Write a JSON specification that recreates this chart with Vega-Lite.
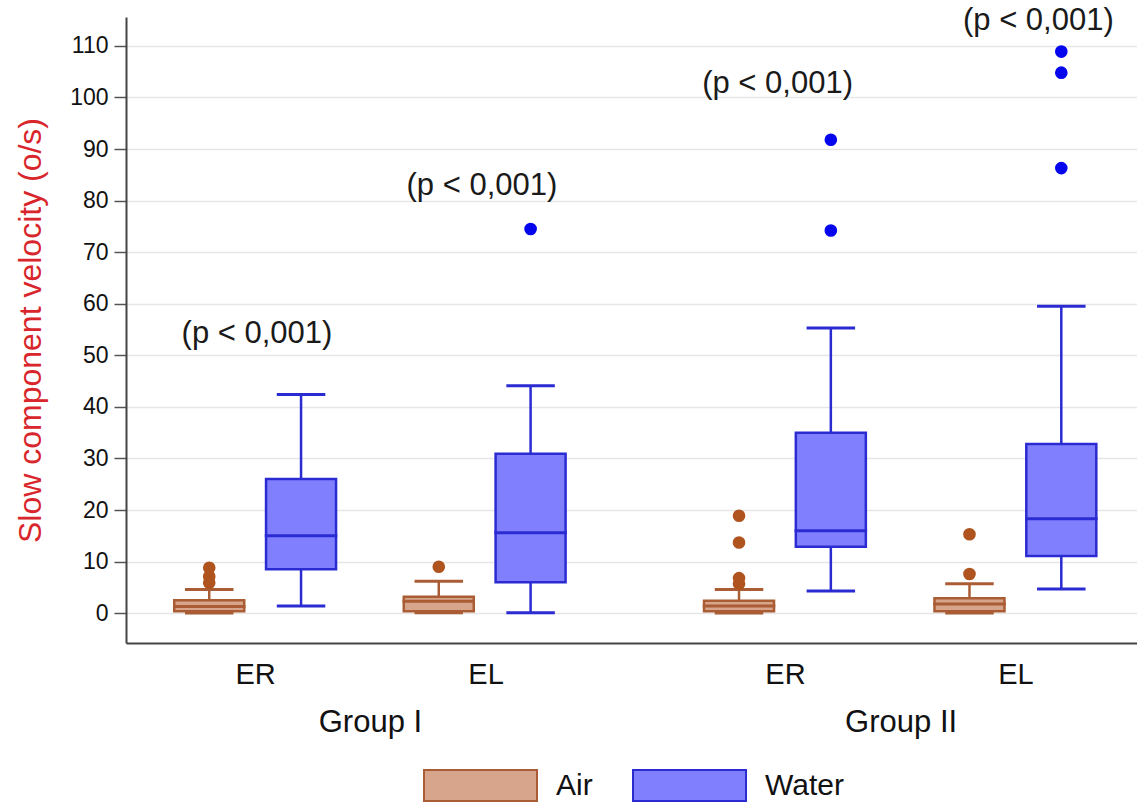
{
  "$schema": "https://vega.github.io/schema/vega-lite/v6.json",
  "width": 1011,
  "height": 626,
  "autosize": {"type": "none"},
  "padding": {"left": 126, "top": 17, "right": 0, "bottom": 160},
  "background": "white",
  "config": {
    "font": "Liberation Sans",
    "view": {"stroke": null},
    "text": {"font": "Liberation Sans"},
    "axisY": {
      "tickSize": 12, "tickColor": "#555555", "tickWidth": 1.5,
      "labelFontSize": 23, "labelPadding": 6, "labelColor": "#111111",
      "domainColor": "#444444", "domainWidth": 2,
      "gridColor": "#e6e6e6", "gridWidth": 1.5,
      "titleColor": "#d8262c", "titleFontSize": 32, "titleFontWeight": "normal",
      "titlePadding": 22
    },
    "legend": {
      "orient": "none", "legendX": 297, "legendY": 711, "direction": "horizontal",
      "symbolType": "M-1,-0.274L1,-0.274L1,0.274L-1,0.274Z",
      "symbolSize": 12769, "symbolStrokeWidth": 2, "symbolOpacity": 1,
      "labelFontSize": 30, "labelOffset": 18, "columnPadding": 36, "labelColor": "#111111"
    }
  },
  "datasets": {
    "boxes": [
      {"grp": "Group I", "side": "ER", "cond": "Air", "pos": 1, "lo": 0.05, "q1": 0.4, "med": 1.3, "q3": 2.5, "hi": 4.6},
      {"grp": "Group I", "side": "ER", "cond": "Water", "pos": 2, "lo": 1.4, "q1": 8.5, "med": 15.0, "q3": 26.0, "hi": 42.4},
      {"grp": "Group I", "side": "EL", "cond": "Air", "pos": 3.5, "lo": 0.1, "q1": 0.4, "med": 2.3, "q3": 3.2, "hi": 6.2},
      {"grp": "Group I", "side": "EL", "cond": "Water", "pos": 4.5, "lo": 0.1, "q1": 6.0, "med": 15.6, "q3": 30.9, "hi": 44.1},
      {"grp": "Group II", "side": "ER", "cond": "Air", "pos": 6.77, "lo": 0.05, "q1": 0.4, "med": 1.4, "q3": 2.4, "hi": 4.6},
      {"grp": "Group II", "side": "ER", "cond": "Water", "pos": 7.77, "lo": 4.3, "q1": 12.9, "med": 16.0, "q3": 35.0, "hi": 55.3},
      {"grp": "Group II", "side": "EL", "cond": "Air", "pos": 9.28, "lo": 0.05, "q1": 0.4, "med": 1.8, "q3": 2.9, "hi": 5.7},
      {"grp": "Group II", "side": "EL", "cond": "Water", "pos": 10.28, "lo": 4.7, "q1": 11.1, "med": 18.3, "q3": 32.8, "hi": 59.5}
    ],
    "outliers": [
      {"cond": "Air", "pos": 1, "value": 5.9},
      {"cond": "Air", "pos": 1, "value": 7.1},
      {"cond": "Air", "pos": 1, "value": 8.8},
      {"cond": "Air", "pos": 3.5, "value": 9.0},
      {"cond": "Water", "pos": 4.5, "value": 74.5},
      {"cond": "Air", "pos": 6.77, "value": 5.7},
      {"cond": "Air", "pos": 6.77, "value": 6.8},
      {"cond": "Air", "pos": 6.77, "value": 13.7},
      {"cond": "Air", "pos": 6.77, "value": 18.9},
      {"cond": "Water", "pos": 7.77, "value": 74.2},
      {"cond": "Water", "pos": 7.77, "value": 91.8},
      {"cond": "Air", "pos": 9.28, "value": 7.6},
      {"cond": "Air", "pos": 9.28, "value": 15.3},
      {"cond": "Water", "pos": 10.28, "value": 86.3},
      {"cond": "Water", "pos": 10.28, "value": 104.8},
      {"cond": "Water", "pos": 10.28, "value": 108.9}
    ],
    "pvals": [
      {"pos": 1.52, "y": 54.2, "label": "(p < 0,001)"},
      {"pos": 3.97, "y": 82.8, "label": "(p < 0,001)"},
      {"pos": 7.19, "y": 102.7, "label": "(p < 0,001)"},
      {"pos": 10.03, "y": 114.9, "label": "(p < 0,001)"}
    ]
  },
  "resolve": {"axis": {"x": "independent"}},
  "layer": [
    {
      "data": {"name": "boxes"},
      "mark": {"type": "rule", "strokeWidth": 2.5},
      "encoding": {
        "x": {"field": "pos", "type": "quantitative", "scale": {"domain": [0.148, 11.05], "nice": false, "zero": false}, "axis": null},
        "y": {"field": "lo", "type": "quantitative", "scale": {"domain": [-5.78, 115.6], "nice": false, "zero": false},
              "axis": {"values": [0, 10, 20, 30, 40, 50, 60, 70, 80, 90, 100, 110], "title": "Slow component velocity (o/s)", "labelFontSize": 23, "titleFontSize": 32}},
        "y2": {"field": "hi"},
        "stroke": {"field": "cond", "type": "nominal", "scale": {"domain": ["Air", "Water"], "range": ["#aa5c34", "#2b2bd2"]}, "legend": {"title": null}}
      }
    },
    {
      "data": {"name": "boxes"},
      "mark": {"type": "tick", "orient": "horizontal", "size": 46, "thickness": 0.5, "filled": false, "strokeWidth": 2.5, "opacity": 1},
      "encoding": {
        "x": {"field": "pos", "type": "quantitative", "axis": null},
        "y": {"field": "lo", "type": "quantitative", "axis": {"values": [0, 10, 20, 30, 40, 50, 60, 70, 80, 90, 100, 110], "title": "Slow component velocity (o/s)", "labelFontSize": 23, "titleFontSize": 32}},
        "stroke": {"field": "cond", "type": "nominal", "legend": {"title": null}}
      }
    },
    {
      "data": {"name": "boxes"},
      "mark": {"type": "tick", "orient": "horizontal", "size": 46, "thickness": 0.5, "filled": false, "strokeWidth": 2.5, "opacity": 1},
      "encoding": {
        "x": {"field": "pos", "type": "quantitative", "axis": null},
        "y": {"field": "hi", "type": "quantitative", "axis": {"values": [0, 10, 20, 30, 40, 50, 60, 70, 80, 90, 100, 110], "title": "Slow component velocity (o/s)", "labelFontSize": 23, "titleFontSize": 32}},
        "stroke": {"field": "cond", "type": "nominal", "legend": {"title": null}}
      }
    },
    {
      "data": {"name": "boxes"},
      "mark": {"type": "bar", "size": 70, "strokeWidth": 2.5, "opacity": 1},
      "encoding": {
        "x": {
          "field": "pos", "type": "quantitative",
          "axis": {
            "orient": "bottom",
            "values": [1.5, 4.01, 7.27, 9.78],
            "labelExpr": "datum.value < 2 ? 'ER' : datum.value < 5 ? 'EL' : datum.value < 8 ? 'ER' : 'EL'",
            "ticks": false, "tickSize": 0, "grid": false,
            "domainColor": "#444444", "domainWidth": 2,
            "labelFontSize": 29, "labelPadding": 17, "labelColor": "#111111",
            "labelFlush": false, "labelOverlap": false, "title": null
          }
        },
        "y": {
          "field": "q1", "type": "quantitative",
          "axis": {"values": [0, 10, 20, 30, 40, 50, 60, 70, 80, 90, 100, 110], "title": "Slow component velocity (o/s)", "labelFontSize": 23, "titleFontSize": 32}
        },
        "y2": {"field": "q3"},
        "fill": {
          "field": "cond", "type": "nominal",
          "scale": {"domain": ["Air", "Water"], "range": ["#d7a58c", "#8080ff"]},
          "legend": {"title": null}
        },
        "stroke": {"field": "cond", "type": "nominal", "legend": {"title": null}}
      }
    },
    {
      "data": {"name": "boxes"},
      "mark": {"type": "tick", "orient": "horizontal", "size": 70, "thickness": 0.5, "filled": false, "strokeWidth": 2.5, "opacity": 1},
      "encoding": {
        "x": {"field": "pos", "type": "quantitative", "axis": null},
        "y": {"field": "med", "type": "quantitative", "axis": {"values": [0, 10, 20, 30, 40, 50, 60, 70, 80, 90, 100, 110], "title": "Slow component velocity (o/s)", "labelFontSize": 23, "titleFontSize": 32}},
        "stroke": {"field": "cond", "type": "nominal", "legend": {"title": null}}
      }
    },
    {
      "data": {"name": "outliers"},
      "mark": {"type": "point", "filled": true, "size": 160, "opacity": 1},
      "encoding": {
        "x": {"field": "pos", "type": "quantitative", "axis": null},
        "y": {"field": "value", "type": "quantitative", "axis": {"values": [0, 10, 20, 30, 40, 50, 60, 70, 80, 90, 100, 110], "title": "Slow component velocity (o/s)", "labelFontSize": 23, "titleFontSize": 32}},
        "color": {"field": "cond", "type": "nominal", "scale": {"domain": ["Air", "Water"], "range": ["#b0541f", "#0505ee"]}, "legend": null}
      }
    },
    {
      "data": {"name": "pvals"},
      "mark": {"type": "text", "fontSize": 31, "color": "#1a1a1a", "baseline": "middle", "align": "center"},
      "encoding": {
        "x": {
          "field": "pos", "type": "quantitative",
          "axis": {
            "orient": "bottom",
            "values": [2.75, 8.53],
            "labelExpr": "datum.value < 5 ? 'Group I' : 'Group II'",
            "ticks": false, "tickSize": 0, "grid": false, "domain": false,
            "labelFontSize": 31, "labelPadding": 64, "labelColor": "#111111",
            "labelFlush": false, "labelOverlap": false, "title": null
          }
        },
        "y": {"field": "y", "type": "quantitative", "axis": {"values": [0, 10, 20, 30, 40, 50, 60, 70, 80, 90, 100, 110], "title": "Slow component velocity (o/s)", "labelFontSize": 23, "titleFontSize": 32}},
        "text": {"field": "label"}
      }
    }
  ]
}
